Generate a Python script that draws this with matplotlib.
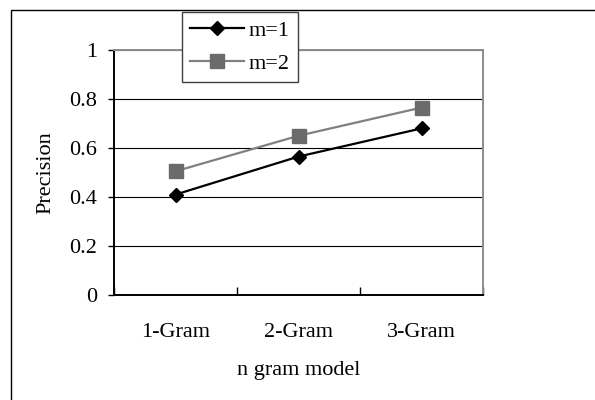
import matplotlib
matplotlib.use("Agg")
import matplotlib.pyplot as plt
from matplotlib.patches import Rectangle

# Data
categories = ["1-Gram", "2-Gram", "3-Gram"]
m1_values = [0.41, 0.565, 0.68]
m2_values = [0.505, 0.65, 0.765]
y_ticks = [0, 0.2, 0.4, 0.6, 0.8, 1]
y_tick_labels = ["0", "0.2", "0.4", "0.6", "0.8", "1"]

plt.rcParams['font.family'] = ['Liberation Serif', 'DejaVu Serif']
fs = 16

fig = plt.figure(figsize=(5.95, 4.0), dpi=100)
W, H = 595.0, 400.0

# outer border like the excel chart area (right and bottom edges run off the picture)
fig.patches.append(Rectangle((11 / W, -10 / H), 600 / W, 400 / H, transform=fig.transFigure,
                             fill=False, edgecolor='black', linewidth=1.0))

ax = fig.add_axes([114 / W, (H - 295) / H, 369 / W, 245 / H])

x = list(range(len(categories)))
ax.plot(x, m1_values, color='black', linewidth=1.6, marker='D', markersize=7.5,
        markerfacecolor='black', markeredgecolor='black', label='m=1')
ax.plot(x, m2_values, color='#808080', linewidth=1.6, marker='s', markersize=10.5,
        markerfacecolor='#6b6b6b', markeredgecolor='#6b6b6b', label='m=2')

ax.set_xlim(-0.5, len(categories) - 0.5)
ax.set_ylim(0, 1)

# y axis
ax.set_yticks(y_ticks)
ax.set_yticklabels(y_tick_labels, fontsize=fs)
ax.tick_params(axis='y', direction='out', length=4, width=1, color='black', pad=8)
ax.yaxis.grid(True, color='black', linewidth=0.8)
ax.set_axisbelow(True)

# x axis: labels at centres, ticks at category boundaries
ax.set_xticks(x)
ax.set_xticklabels(categories, fontsize=fs)
ax.tick_params(axis='x', which='major', length=0, pad=20)
ax.set_xticks([i - 0.5 for i in range(len(categories) + 1)], minor=True)
ax.tick_params(axis='x', which='minor', direction='in', length=6, width=1, color='black')

ax.set_xlabel("n gram model", fontsize=fs, labelpad=14)
ax.set_ylabel("Precision", fontsize=fs, labelpad=10)

for side in ['left', 'bottom']:
    ax.spines[side].set_color('black')
    ax.spines[side].set_linewidth(1.4)
for side in ['top', 'right']:
    ax.spines[side].set_color('#8c8c8c')
    ax.spines[side].set_linewidth(1.4)

leg = ax.legend(loc='upper left', bbox_to_anchor=(182 / W, 1 - 12 / H),
                bbox_transform=fig.transFigure, borderaxespad=0, fontsize=fs,
                fancybox=False, framealpha=1, edgecolor='#404040',
                handlelength=2.4, handletextpad=0.2, borderpad=0.38, labelspacing=0.55)
leg.get_frame().set_linewidth(1.0)

fig.savefig("out.png", dpi=100)
